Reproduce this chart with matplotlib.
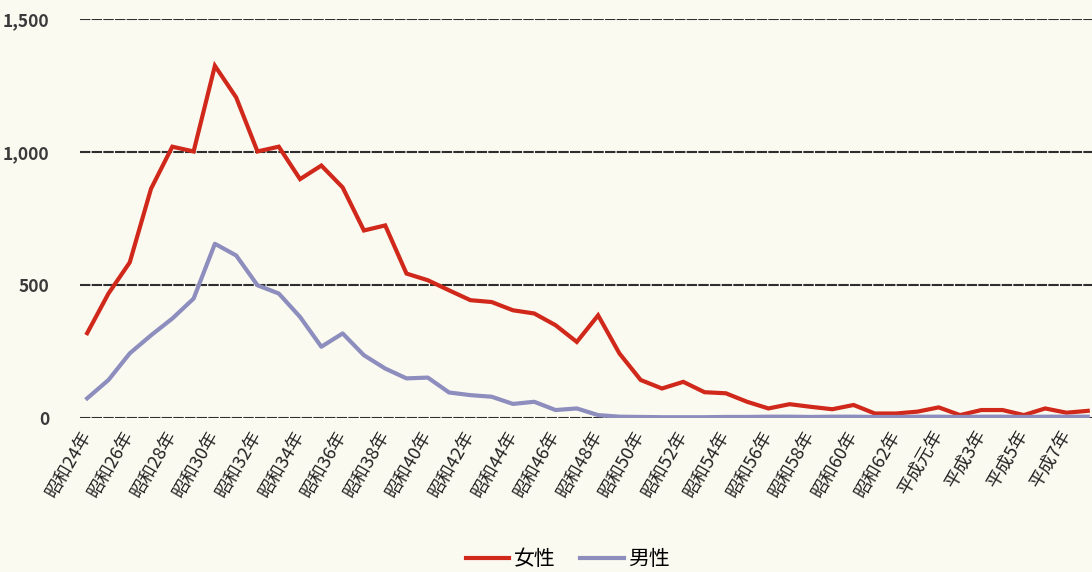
import numpy as np
import matplotlib.pyplot as plt

plt.rcParams['font.family'] = ['Noto Sans CJK JP', 'DejaVu Sans']

# 年次（昭和24年〜平成8年）
years = ['昭和%d年' % n for n in range(24, 64)] + ['平成元年'] + ['平成%d年' % n for n in range(2, 9)]

# 女性・男性の人数
female = [319, 468, 585, 862, 1020, 1002, 1324, 1205, 1002, 1020, 898, 949,
          867, 705, 724, 543, 518, 480, 443, 436, 405, 393, 349, 286,
          386, 243, 143, 111, 136, 97, 93, 61, 36, 52, 42, 33,
          49, 17, 17, 24, 40, 11, 30, 30, 11, 36, 20, 27]
male = [74, 143, 243, 311, 374, 449, 655, 611, 499, 468, 380, 268,
        318, 236, 186, 149, 152, 96, 86, 80, 53, 61, 30, 36,
        11, 5, 4, 3, 3, 3, 4, 4, 5, 5, 4, 5,
        5, 4, 4, 5, 5, 4, 5, 5, 4, 5, 5, 5]

yticks = [0, 500, 1000, 1500]

bg = '#fbfaf1'
fig = plt.figure(figsize=(10.92, 5.72), dpi=100, facecolor=bg)
ax = fig.add_axes([0.073, 0.2692, 0.927, 0.6976], facecolor=bg)

x = np.arange(len(years))
ax.plot(x, female, color='#d0281a', lw=3, label='女性', solid_joinstyle='miter', zorder=3)
ax.plot(x, male, color='#8d8dbe', lw=3, label='男性', zorder=3)

ax.set_ylim(0, 1500)
ax.set_xlim(-0.35, len(years) - 0.8)
ax.set_yticks(yticks)
ax.set_yticklabels(['{:,}'.format(v) for v in yticks], fontsize=12.5,
                   fontweight='bold', color='#3a3a3a')
ax.yaxis.grid(True, color='#2e2e2e', lw=1.5, linestyle=(0, (5, 0.6)))
ax.set_axisbelow(True)

ax.set_xticks(x[::2])
ax.set_xticklabels(years[::2], rotation=60, ha='right', va='center',
                   rotation_mode='anchor', fontsize=13, color='#222222')
ax.tick_params(axis='both', length=0)
ax.tick_params(axis='y', pad=22)
ax.tick_params(axis='x', pad=10)
for s in ax.spines.values():
    s.set_visible(False)

fig.legend(loc='center', bbox_to_anchor=(0.52, 0.022), ncol=2, frameon=False,
           fontsize=15, handlelength=2.1, handletextpad=0.2, columnspacing=1.2)

fig.savefig('out.png', dpi=100, facecolor=bg)
